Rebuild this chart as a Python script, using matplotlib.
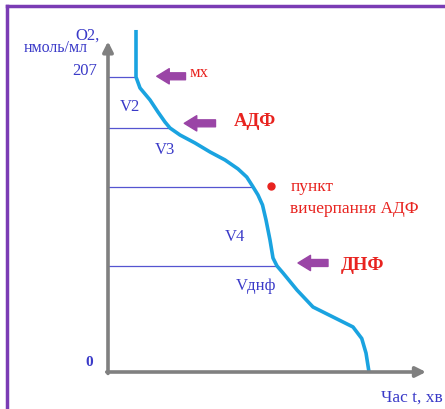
import numpy as np
import matplotlib
matplotlib.use('Agg')
import matplotlib.pyplot as plt
from matplotlib.lines import Line2D

plt.rcParams['font.family'] = ['Liberation Serif', 'DejaVu Serif']

# oxygen curve: time (min, arbitrary) vs O2 (nmol/ml)
t = [1.12, 1.12, 1.28, 1.68, 2.0, 2.28, 2.48, 2.88, 3.48, 4.08, 4.68, 5.2, 5.55,
     5.78, 6.0, 6.18, 6.32, 6.48, 6.6, 6.76, 7.0, 7.56, 8.2, 9.0, 9.8, 10.15, 10.32, 10.44]
o2 = [240, 207, 199.3, 190.9, 182.4, 175.4, 171.2, 166.3, 160.7, 154.4, 148.8, 142.5, 136.8,
      130.5, 124.2, 117.2, 106.7, 92.6, 80.0, 74.4, 69.5, 57.5, 45.6, 38.6, 31.6, 23.5, 13.3, 0]

# state transitions: level on y and where the level line meets the curve
levels = [207, 171, 130, 74.4]
level_t = [1.12, 2.42, 5.76, 6.76]
segment_names = ['V2', 'V3', 'V4', 'Vднф']
segment_pos = [(0.48, 186), (1.88, 156), (4.68, 95), (5.12, 60)]

blue_txt = '#3a3ac8'
red = '#e8231f'
purple = '#9a45a6'

fig = plt.figure(figsize=(4.45, 4.09), dpi=100)
ax = fig.add_axes([0, 0, 1, 1])
sx, sy = 25.0, 295 / 207
ax.set_xlim(-108 / sx, (445 - 108) / sx)
ax.set_ylim(-(409 - 372) / sy, 372 / sy)
ax.axis('off')

# frame
fig.add_artist(Line2D([7 / 445, 7 / 445], [0, 1 - 6 / 409], color='#7a3cb4', lw=2.5))
fig.add_artist(Line2D([7 / 445, 1], [1 - 6 / 409, 1 - 6 / 409], color='#7a3cb4', lw=2.5))

# axes with arrows
ax.annotate('', xy=(0, 232), xytext=(0, -1), arrowprops=dict(arrowstyle='-|>,head_length=0.6,head_width=0.3',
            color='#808080', lw=2.6, shrinkA=0, shrinkB=0))
ax.annotate('', xy=(12.72, 0), xytext=(-0.05, 0), arrowprops=dict(arrowstyle='-|>,head_length=0.6,head_width=0.3',
            color='#808080', lw=2.6, shrinkA=0, shrinkB=0))

for lv, lt in zip(levels, level_t):
    ax.plot([0, lt], [lv, lv], color='#5555d0', lw=0.9)

ax.plot(t, o2, color='#1aa3e0', lw=2.6, solid_capstyle='butt', solid_joinstyle='round')

for name, (x, y) in zip(segment_names, segment_pos):
    ax.text(x, y, name, color=blue_txt, fontsize=12, ha='left', va='center')

ax.text(-0.8, 236, 'O2,', color=blue_txt, fontsize=12, ha='center', va='center')
ax.text(-2.08, 227, 'нмоль/мл', color=blue_txt, fontsize=11.5, ha='center', va='center')
ax.text(-0.95, 211, '207', color=blue_txt, fontsize=12, ha='center', va='center')
ax.text(-0.75, 7, '0', color=blue_txt, fontsize=11, ha='center', va='center', fontweight='bold')
ax.text(13.4, -18, 'Час t, хв', color=blue_txt, fontsize=12.5, ha='right', va='center')

# purple pointer arrows
arrow_tail = [(3.1, 207.5), (4.3, 174.5), (8.8, 76.5)]
arrow_head = [(1.95, 207.5), (3.05, 174.5), (7.6, 76.5)]
for (x0, y0), (x1, y1) in zip(arrow_tail, arrow_head):
    ax.annotate('', xy=(x1, y1), xytext=(x0, y0),
                arrowprops=dict(arrowstyle='simple,head_length=0.9,head_width=1.1,tail_width=0.5',
                                color=purple, shrinkA=0, shrinkB=0))

ax.text(3.25, 209.5, 'мх', color=red, fontsize=12, ha='left', va='center')
ax.text(5.02, 175.5, 'АДФ', color=red, fontsize=13.5, ha='left', va='center', fontweight='bold')
ax.text(9.3, 74.5, 'ДНФ', color=red, fontsize=13.5, ha='left', va='center', fontweight='bold')

ax.plot([6.5], [130.5], 'o', color=red, ms=5)
ax.text(7.3, 130, 'пункт', color=red, fontsize=12.5, ha='left', va='center')
ax.text(7.3, 114.5, 'вичерпання АДФ', color=red, fontsize=12.5, ha='left', va='center')

fig.savefig('out.png', dpi=100)
